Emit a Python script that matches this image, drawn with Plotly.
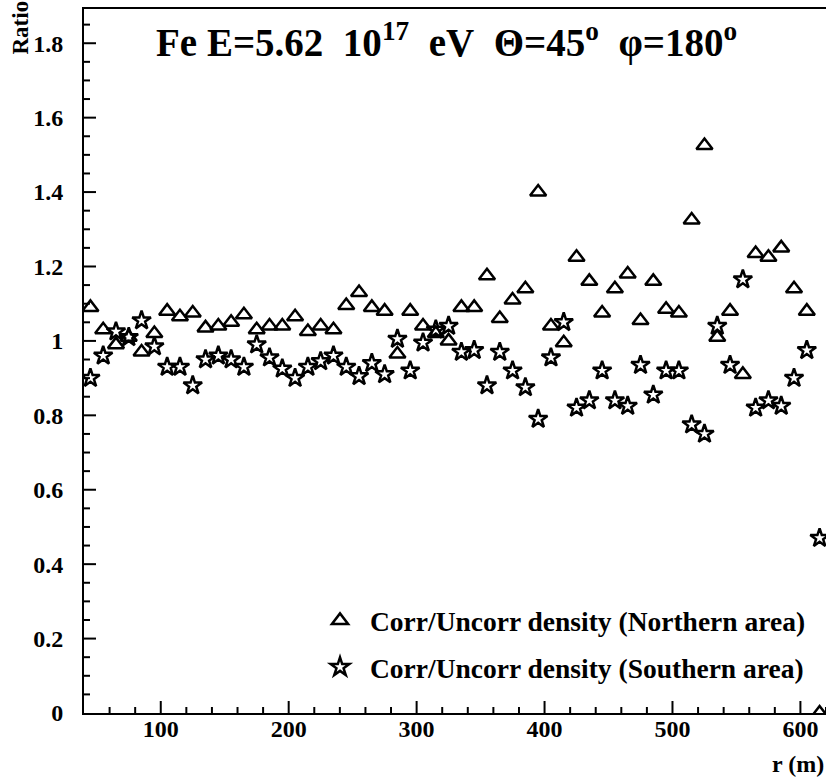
import numpy as np
import plotly.graph_objects as go

# Radial distance bins (m)
r = [45, 55, 65, 75, 85, 95, 105, 115, 125, 135, 145, 155, 165, 175, 185, 195,
     205, 215, 225, 235, 245, 255, 265, 275, 285, 295, 305, 315, 325, 335, 345,
     355, 365, 375, 385, 395, 405, 415, 425, 435, 445, 455, 465, 475, 485, 495,
     505, 515, 525, 535, 545, 555, 565, 575, 585, 595, 605, 615]

# Corrected / uncorrected density ratio, northern area
ratio_north = [1.09, 1.03, 0.99, 1.01, 0.97, 1.02, 1.08, 1.065, 1.075, 1.035,
               1.04, 1.05, 1.07, 1.03, 1.04, 1.04, 1.065, 1.025, 1.04, 1.03,
               1.095, 1.13, 1.09, 1.08, 0.965, 1.08, 1.04, 1.02, 1.00, 1.09,
               1.09, 1.175, 1.06, 1.11, 1.14, 1.40, 1.04, 0.995, 1.225, 1.16,
               1.075, 1.14, 1.18, 1.055, 1.16, 1.085, 1.075, 1.325, 1.525, 1.01,
               1.08, 0.91, 1.235, 1.225, 1.25, 1.14, 1.08, 0.0]

# Corrected / uncorrected density ratio, southern area
ratio_south = [0.90, 0.96, 1.025, 1.01, 1.055, 0.985, 0.93, 0.93, 0.88, 0.95,
               0.96, 0.95, 0.93, 0.99, 0.955, 0.925, 0.90, 0.93, 0.945, 0.96,
               0.93, 0.905, 0.94, 0.91, 1.005, 0.92, 0.995, 1.03, 1.04, 0.97,
               0.975, 0.88, 0.97, 0.92, 0.875, 0.79, 0.955, 1.05, 0.82, 0.84,
               0.92, 0.84, 0.825, 0.935, 0.855, 0.92, 0.92, 0.775, 0.75, 1.04,
               0.935, 1.165, 0.82, 0.84, 0.825, 0.90, 0.975, 0.47]

X_RANGE = [40, 620]
Y_RANGE = [0, 1.892]

W, H = 826, 780
MARGIN = dict(l=84, r=0, t=9, b=67)
PLOT_W = W - MARGIN["l"] - MARGIN["r"]
PLOT_H = H - MARGIN["t"] - MARGIN["b"]

FONT = "Liberation Serif"
TICKFONT = dict(family=FONT, size=24, color="black", weight="bold")

fig = go.Figure()
fig.add_trace(go.Scatter(
    x=r, y=ratio_north, mode="markers",
    name="Corr/Uncorr density (Northern area)", legendgroup="n",
    marker=dict(symbol="triangle-up-open", size=14, color="black",
                line=dict(width=2.5, color="black")),
))
fig.add_trace(go.Scatter(
    x=r, y=ratio_south, mode="markers",
    name="Corr/Uncorr density (Southern area)", legendgroup="s",
    marker=dict(symbol="star-open", size=14, color="black",
                line=dict(width=2.5, color="black")),
))

fig.update_layout(
    xaxis=dict(
        range=X_RANGE, tickmode="linear", tick0=0, dtick=100,
        showgrid=False, zeroline=False,
        showline=True, mirror=True, linecolor="black", linewidth=2,
        ticks="", tickfont=TICKFONT, ticklabelstandoff=-7,
    ),
    yaxis=dict(
        range=Y_RANGE, tickmode="linear", tick0=0, dtick=0.2,
        showgrid=False, zeroline=False,
        showline=True, mirror=False, linecolor="black", linewidth=2,
        ticks="", tickfont=TICKFONT, ticklabelstandoff=14,
    ),
)

# inward tick marks: major every 100 m / 0.2, minor every 20 m / 0.05
TICK_LINE = dict(color="black", width=2)
for xv in np.arange(60, X_RANGE[1] + 1e-9, 20):
    length = 12 if abs(xv % 100) < 1e-9 else 6
    fig.add_shape(type="line", xref="x", yref="paper", x0=xv, x1=xv,
                  y0=0, y1=length / PLOT_H, line=TICK_LINE)
for yv in np.arange(0.05, Y_RANGE[1], 0.05):
    major = abs(yv / 0.2 - round(yv / 0.2)) < 1e-6
    length = 12 if major else 6
    fig.add_shape(type="line", xref="paper", yref="y", y0=yv, y1=yv,
                  x0=0, x1=length / PLOT_W, line=TICK_LINE)

NB = "\u00a0"
title = ("Fe E=5.62" + NB * 2 + "10<sup>17</sup>" + NB * 2 + "eV" + NB * 2 +
         "Θ=45<sup>o</sup>" + NB * 2 + "φ=180<sup>o</sup>")
fig.add_annotation(
    text=title,
    xref="paper", yref="paper", x=0.488, y=0.955, xanchor="center", yanchor="middle",
    showarrow=False, font=dict(family=FONT, size=39, color="black", weight="bold"),
)
fig.add_annotation(
    text="Ratio", textangle=-90,
    xref="paper", yref="paper", x=0, y=1, xshift=-79, yshift=10,
    xanchor="left", yanchor="top", showarrow=False,
    font=dict(family=FONT, size=23, color="black", weight="bold"),
)
fig.add_annotation(
    text="r (m)",
    xref="paper", yref="paper", x=1, y=0, yshift=-51,
    xanchor="right", yanchor="middle", showarrow=False,
    font=dict(family=FONT, size=24, color="black", weight="bold"),
)

fig.update_layout(
    width=W, height=H,
    margin=MARGIN,
    plot_bgcolor="white", paper_bgcolor="white",
    showlegend=True,
    legend=dict(
        x=0.3046, y=0.098, xanchor="left", yanchor="middle",
        bgcolor="rgba(0,0,0,0)", traceorder="grouped", tracegroupgap=8,
        itemwidth=50,
        font=dict(family=FONT, size=27.5, color="black", weight="bold"),
    ),
)

fig.write_html("out.html")
